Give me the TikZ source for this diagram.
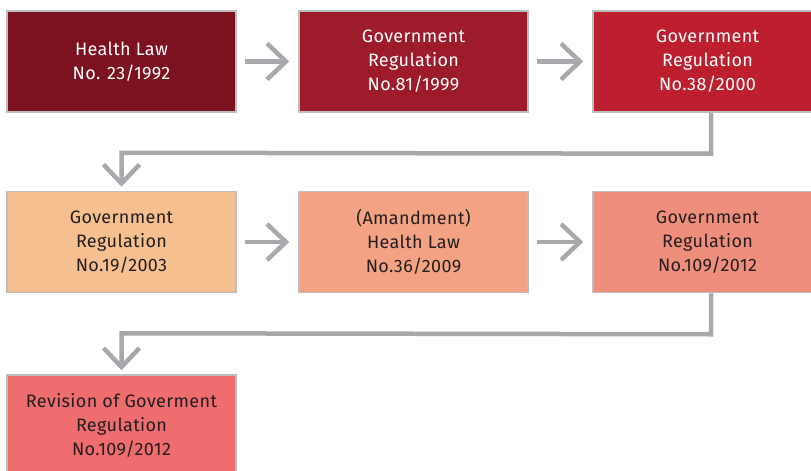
\documentclass[tikz,border=0pt]{standalone}
\usepackage{fontspec}
\setmainfont[LetterSpace=2]{Fira Sans}
\usetikzlibrary{arrows.meta,calc}
\definecolor{cA}{HTML}{7C1220}
\definecolor{cB}{HTML}{9D1B2A}
\definecolor{cC}{HTML}{BD1F2F}
\definecolor{cD}{HTML}{F6BF8F}
\definecolor{cE}{HTML}{F3A383}
\definecolor{cF}{HTML}{F08E7D}
\definecolor{cG}{HTML}{EF6C6F}
\definecolor{bord}{HTML}{BCBEC0}
\definecolor{arrg}{HTML}{A7A9AC}
\definecolor{txt}{HTML}{231F20}
\tikzset{
  box/.style={draw=bord, line width=1.5pt, minimum width=229pt, minimum height=101pt,
    align=center, font=\fontsize{18}{24}\selectfont, inner sep=0pt},
  arr/.style={draw=arrg, line width=4.5pt, -{Straight Barb[length=19pt,width=36pt,line width=4.5pt]}}
}
\begin{document}
\begin{tikzpicture}[x=1pt,y=-1pt]
\useasboundingbox (0,0) rectangle (811,471);
\clip (0,0) rectangle (811,471);
\node[box, fill=cA, text=white] (b1) at (121.5,61.5) {Health Law\\No. 23/1992};
\node[box, fill=cB, text=white] (b2) at (413.5,61.5) {Government\\Regulation\\No.81/1999};
\node[box, fill=cC, text=white] (b3) at (707.5,61.5) {Government\\Regulation\\No.38/2000};
\node[box, fill=cD, text=txt] (b4) at (121.5,242) {Government\\Regulation\\No.19/2003};
\node[box, fill=cE, text=txt] (b5) at (413.5,242) {(Amandment)\\Health Law\\No.36/2009};
\node[box, fill=cF, text=txt] (b6) at (707.5,242) {Government\\Regulation\\No.109/2012};
\node[box, fill=cG, text=txt] (b7) at (121.5,425.5) {Revision of Goverment\\Regulation\\No.109/2012};
\draw[arr] ([xshift=8pt]b1.east) -- ([xshift=-9pt]b2.west);
\draw[arr] ([xshift=8pt]b2.east) -- ([xshift=-9pt]b3.west);
\draw[arr] ([xshift=8pt]b4.east) -- ([xshift=-9pt]b5.west);
\draw[arr] ([xshift=8pt]b5.east) -- ([xshift=-9pt]b6.west);
\coordinate (k1) at ($(b3.south)+(3.5,41)$);
\coordinate (k2) at ($(b4.north)+(0,-38)$);
\draw[arr] ([xshift=3.5pt]b3.south) -- (k1) -- (k2) -- ([yshift=4pt]b4.north);
\coordinate (k3) at ($(b6.south)+(3.5,41)$);
\coordinate (k4) at ($(b7.north)+(0,-41)$);
\draw[arr] ([xshift=3.5pt]b6.south) -- (k3) -- (k4) -- ([yshift=4pt]b7.north);
\end{tikzpicture}
\end{document}
